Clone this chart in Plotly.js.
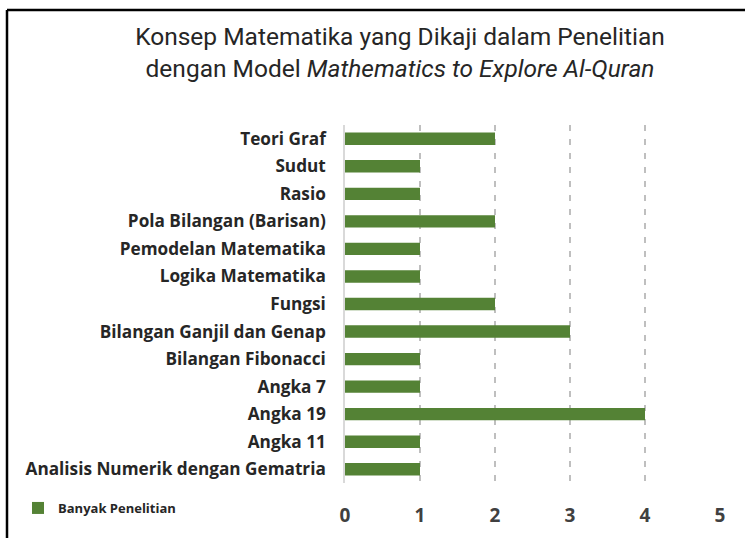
<!DOCTYPE html>
<html>
<head>
<meta charset="utf-8">
<script src="https://cdn.plot.ly/plotly-3.0.1.min.js"></script>
<style>
html,body{margin:0;padding:0;background:#fff;}
#chart{width:745px;height:538px;}
</style>
</head>
<body>
<div id="chart"></div>
<script>
// Categories listed bottom to top (Plotly draws first category at bottom)
const categories = [
  "Analisis Numerik dengan Gematria",
  "Angka 11",
  "Angka 19",
  "Angka 7",
  "Bilangan Fibonacci",
  "Bilangan Ganjil dan Genap",
  "Fungsi",
  "Logika Matematika",
  "Pemodelan Matematika",
  "Pola Bilangan (Barisan)",
  "Rasio",
  "Sudut",
  "Teori Graf"
];
const values = [1, 1, 4, 1, 1, 3, 2, 1, 1, 2, 1, 1, 2];
const seriesName = "Banyak Penelitian";
const xTicks = [0, 1, 2, 3, 4, 5];

const W = 745, H = 538;
const mL = 345, mR = 25, mT = 125, mB = 55;
const pw = W - mL - mR, ph = H - mT - mB;
const px2x = p => (p - mL) / pw;
const py2y = p => (H - mB - p) / ph;

const trace = {
  type: 'bar',
  orientation: 'h',
  x: values,
  y: categories,
  name: seriesName,
  marker: {color: '#548235'},
  hoverinfo: 'x+y'
};

const layout = {
  width: W, height: H,
  margin: {l: mL, r: mR, t: mT, b: mB, pad: 0},
  paper_bgcolor: '#ffffff',
  plot_bgcolor: '#ffffff',
  bargap: 0.55,
  showlegend: true,
  legend: {
    orientation: 'h',
    xref: 'container', yref: 'container',
    x: 18 / W, y: 1 - 508 / H,
    xanchor: 'left', yanchor: 'middle',
    font: {family: 'Open Sans, sans-serif', size: 13, color: '#262626', weight: 700},
    itemwidth: 30,
    bgcolor: 'rgba(0,0,0,0)'
  },
  title: {
    text: 'Konsep Matematika yang Dikaji dalam Penelitian<br>dengan Model <i>Mathematics to Explore Al-Quran</i>',
    font: {family: 'Roboto, sans-serif', size: 24.5, color: '#262626'},
    xref: 'container', yref: 'container',
    x: 400 / W, y: 1 - 45 / H,
    xanchor: 'center', yanchor: 'middle'
  },
  xaxis: {
    range: [0, 5],
    tickvals: xTicks,
    ticktext: xTicks.map(String),
    showgrid: true,
    gridcolor: '#bfbfbf',
    gridwidth: 1.5,
    griddash: '6px,8px',
    zeroline: false,
    showline: false,
    ticks: 'outside',
    ticklen: 15,
    tickcolor: 'rgba(0,0,0,0)',
    tickfont: {family: 'Open Sans, sans-serif', size: 19, color: '#404040', weight: 700},
    fixedrange: true
  },
  yaxis: {
    type: 'category',
    showgrid: false,
    showline: true,
    linecolor: '#d9d9d9',
    linewidth: 1.5,
    ticks: 'outside',
    ticklen: 14,
    tickcolor: 'rgba(0,0,0,0)',
    tickfont: {family: 'Open Sans, sans-serif', size: 17.2, color: '#262626', weight: 700},
    fixedrange: true
  },
  shapes: [
    {type: 'line', xref: 'paper', yref: 'paper',
     x0: px2x(7), x1: px2x(7), y0: py2y(545), y1: py2y(10),
     line: {color: '#000000', width: 2.5}},
    {type: 'line', xref: 'paper', yref: 'paper',
     x0: px2x(7), x1: px2x(760), y0: py2y(10), y1: py2y(10),
     line: {color: '#000000', width: 2.5}}
  ]
};

Plotly.newPlot('chart', [trace], layout, {displayModeBar: false});
</script>
</body>
</html>
